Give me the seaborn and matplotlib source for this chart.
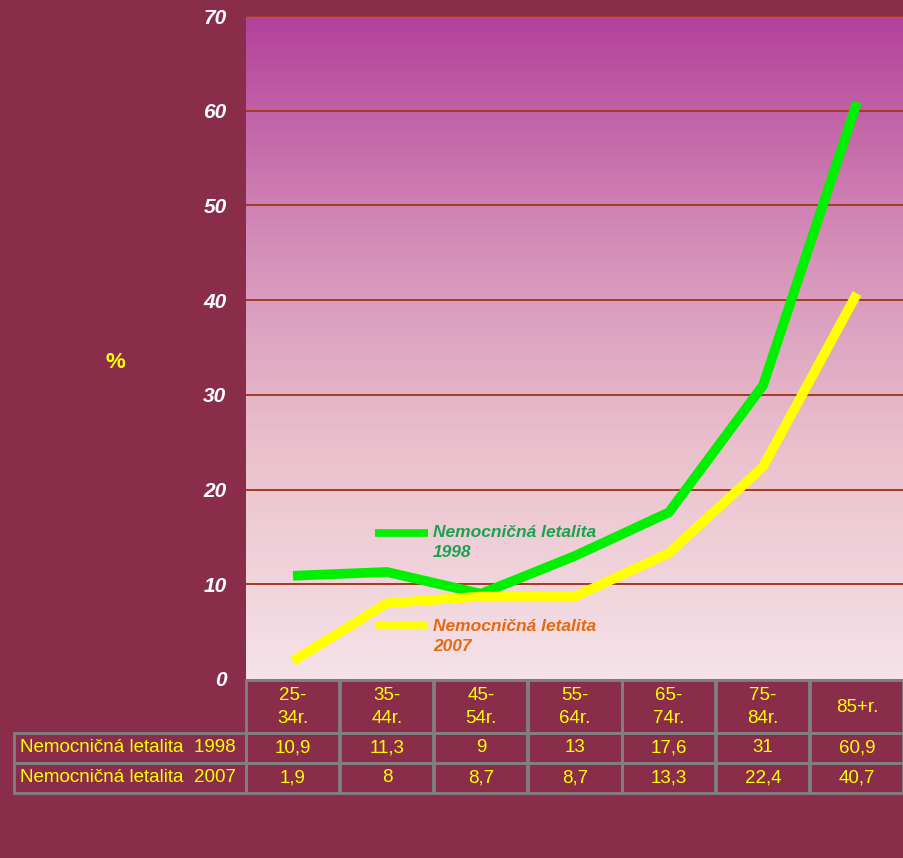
import numpy as np
import pandas as pd
import matplotlib
matplotlib.use("Agg")
import matplotlib.pyplot as plt
from matplotlib.colors import LinearSegmentedColormap
from matplotlib.patches import Rectangle
from matplotlib.lines import Line2D
import seaborn as sns

categories = ["25-\n34r.", "35-\n44r.", "45-\n54r.", "55-\n64r.", "65-\n74r.", "75-\n84r.", "85+r."]
series_names = ["Nemocničná letalita  1998", "Nemocničná letalita  2007"]
legend_labels = ["Nemocničná letalita\n1998", "Nemocničná letalita\n2007"]
values_1998 = [10.9, 11.3, 9, 13, 17.6, 31, 60.9]
values_2007 = [1.9, 8, 8.7, 8.7, 13.3, 22.4, 40.7]
yticks = [0, 10, 20, 30, 40, 50, 60, 70]

def fmt(v):
    s = ("%g" % v).replace(".", ",")
    return s

BG = "#8A2D4B"
W, H = 904, 858
fig = plt.figure(figsize=(W / 100, H / 100), dpi=100, facecolor=BG)
plt.rcParams["font.family"] = ["Liberation Sans", "DejaVu Sans"]

left, right, top, bottom = 246, 904, 16, 679
ax = fig.add_axes([left / W, 1 - bottom / H, (right - left) / W, (bottom - top) / H])
ax.set_facecolor(BG)

# gradient background
cmap = LinearSegmentedColormap.from_list("g", [(0, "#F6E2E8"), (0.35, "#EAC0CC"), (0.65, "#D58FB9"), (1, "#B3419A")])
grad = np.linspace(0, 1, 256).reshape(-1, 1)
ax.imshow(grad, aspect="auto", cmap=cmap, origin="lower", extent=[-0.5, 6.5, 0, 70], zorder=0)

n = len(categories)
df = pd.DataFrame({
    "x": list(range(n)) * 2,
    "value": values_1998 + values_2007,
    "series": [series_names[0]] * n + [series_names[1]] * n,
})
sns.lineplot(data=df, x="x", y="value", hue="series", palette=["#00F000", "#FFFF00"],
             linewidth=7, ax=ax, legend=False, zorder=3, solid_capstyle="butt")

ax.set_xlim(-0.5, 6.5)
ax.set_ylim(0, 70)
for yv in yticks[1:]:
    ax.axhline(yv, color="#A33A1F", lw=1.4, zorder=1)
ax.set_yticks(yticks)
ax.set_yticklabels([str(v) for v in yticks], color="white", fontsize=15,
                   fontweight="bold", fontstyle="italic")
ax.tick_params(axis="y", length=0, pad=14)
ax.set_xticks([])
ax.set_xlabel("")
ax.set_ylabel("")
for s in ax.spines.values():
    s.set_visible(False)

# legend
leg_colors = ["#00F000", "#FFFF00"]
leg_text_colors = ["#1BA34C", "#E46A12"]
leg_y = [0.220, 0.081]
txt_y = [0.206, 0.064]
for i in range(2):
    ax.add_line(Line2D([0.196, 0.277], [leg_y[i], leg_y[i]], transform=ax.transAxes,
                       color=leg_colors[i], lw=5.5, zorder=4, solid_capstyle="butt"))
    ax.text(0.284, txt_y[i], legend_labels[i], transform=ax.transAxes, color=leg_text_colors[i],
            fontsize=12.5, fontweight="bold", fontstyle="italic", va="center", ha="left",
            linespacing=1.35, zorder=5)

fig.text(115 / W, 1 - 362 / H, "%", color="#FFFF00", fontsize=16, fontweight="bold",
         ha="center", va="center")

# table
edge = "#808080"
col_w = (right - left) / n
rows_y = [(680, 733), (733, 763), (763, 793)]
def add_cell(x0, y0, x1, y1):
    fig.patches.append(Rectangle((x0 / W, 1 - y1 / H), (x1 - x0) / W, (y1 - y0) / H,
                                 transform=fig.transFigure, facecolor="none",
                                 edgecolor=edge, lw=2, zorder=5))

for j, cat in enumerate(categories):
    x0 = left + j * col_w
    x1 = x0 + col_w
    y0, y1 = rows_y[0]
    add_cell(x0, y0, x1 - 0.5, y1)
    fig.text((x0 + x1) / 2 / W, 1 - (y0 + y1 + 1) / 2 / H, cat, color="#FFFF00", fontsize=13.5,
             ha="center", va="center", linespacing=1.4)
    for r, vals in enumerate([values_1998, values_2007]):
        y0, y1 = rows_y[r + 1]
        add_cell(x0, y0, x1 - 0.5, y1)
        fig.text((x0 + x1) / 2 / W, 1 - (y0 + y1) / 2 / H, fmt(vals[j]), color="#FFFF00",
                 fontsize=13.5, ha="center", va="center")
for r, name in enumerate(series_names):
    y0, y1 = rows_y[r + 1]
    add_cell(14, y0, left, y1)
    fig.text(20 / W, 1 - (y0 + y1) / 2 / H, name, color="#FFFF00", fontsize=13.5,
             ha="left", va="center")

fig.savefig("out.png", dpi=100, facecolor=BG)
